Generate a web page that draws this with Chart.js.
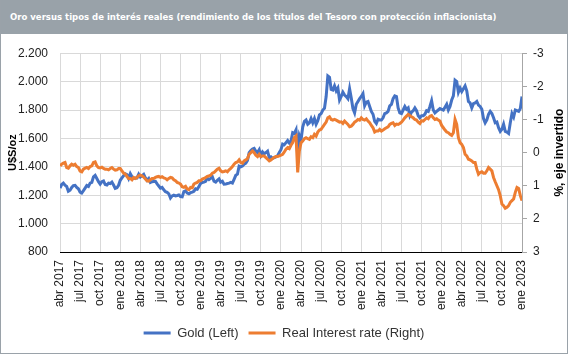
<!DOCTYPE html>
<html>
<head>
<meta charset="utf-8">
<script src="https://cdn.jsdelivr.net/npm/chart.js@4/dist/chart.umd.min.js"></script>
<style>
html,body{margin:0;padding:0;background:#fff;width:571px;height:355px;overflow:hidden;}
#frame{position:absolute;left:0;top:0;width:566px;height:353px;border-left:1px solid #9aa2a9;border-right:1px solid #9aa2a9;border-bottom:1px solid #9aa2a9;}
#band{position:absolute;left:0;top:0;width:566px;height:34px;background:#99a2a9;}
#title{position:absolute;left:9px;top:0;height:34px;line-height:34px;color:#fff;font-family:"Liberation Sans Narrow","DejaVu Sans Condensed","Liberation Sans",sans-serif;font-weight:bold;font-size:12px;white-space:nowrap;}
#wrap{position:absolute;left:0;top:34px;width:566px;height:319px;}
</style>
</head>
<body>
<div id="frame">
  <div id="band"><span id="title">Oro versus tipos de interés reales (rendimiento de los títulos del Tesoro con protección inflacionista)</span></div>
  <div id="wrap"><canvas id="c" width="566" height="319"></canvas></div>
</div>
<script>
// Quarterly tick labels on the time axis
const tickLabels = ['abr 2017','jul 2017','oct 2017','ene 2018','abr 2018','jul 2018','oct 2018','ene 2019','abr 2019','jul 2019','oct 2019','ene 2020','abr 2020','jul 2020','oct 2020','ene 2021','abr 2021','jul 2021','oct 2021','ene 2022','abr 2022','jul 2022','oct 2022','ene 2023'];
const leftTickLabels = ['800','1.000','1.200','1.400','1.600','1.800','2.000','2.200'];
const rightTickLabels = ['-3','-2','-1','0','1','2','3'];

// Gold (US$/oz), weekly from abr 2017 to ene 2023 (4 readings per month)
const goldValues = [
  1250,1275,1285,1270, 1262,1228,1235,1255, 1268,1270,1255,1245, 1222,1215,1232,1250, 1268,1262,1285,1290,
  1330,1340,1318,1295, 1278,1295,1300,1275, 1272,1285,1282,1292, 1272,1248,1252,1270,
  1305,1322,1338,1350, 1345,1318,1352,1330, 1318,1322,1322,1348, 1328,1338,1347,1322, 1305,1318,1290,1295,
  1297,1298,1280,1265, 1250,1255,1238,1225, 1220,1210,1180,1195, 1200,1195,1198,1202, 1190,1188,1225,1230,
  1215,1210,1218,1222, 1228,1245,1242,1262,
  1283,1290,1292,1298, 1320,1310,1318,1330, 1298,1292,1305,1315, 1292,1298,1277,1278, 1282,1285,1290,1285,
  1312,1340,1348,1405, 1400,1405,1418,1425, 1445,1500,1515,1525, 1530,1510,1500,1520, 1480,1505,1492,1500,
  1510,1465,1470,1460, 1465,1470,1478,1500,
  1520,1560,1555,1570, 1585,1568,1582,1640, 1635,1660,1480,1620, 1590,1680,1720,1730, 1700,1710,1740,1710,
  1740,1700,1725,1765, 1775,1800,1812,1895, 2040,2030,1945,1940, 1970,1935,1955,1870, 1895,1925,1905,1895,
  1880,1950,1885,1810, 1780,1840,1860,1880,
  1895,1915,1830,1855, 1860,1825,1790,1770, 1720,1705,1735,1730, 1730,1745,1775,1780, 1790,1830,1840,1880,
  1900,1895,1815,1780, 1775,1800,1825,1805, 1815,1760,1785,1795, 1815,1795,1760,1745, 1760,1760,1770,1795,
  1790,1825,1865,1800, 1780,1790,1800,1810,
  1805,1800,1820,1840, 1800,1825,1870,1900, 2010,2000,1925,1955, 1930,1950,1970,1935, 1860,1850,1815,1845,
  1850,1860,1835,1825, 1805,1740,1710,1730, 1770,1790,1775,1745, 1710,1715,1675,1650, 1665,1700,1650,1645,
  1635,1710,1775,1750, 1800,1795,1790,1810,
  1895
];

// Real interest rate (%), same dates
const rateValues = [
  0.40,0.35,0.32,0.30, 0.45,0.47,0.40,0.35, 0.38,0.35,0.42,0.45, 0.56,0.58,0.50,0.47, 0.45,0.48,0.42,0.40,
  0.30,0.28,0.40,0.45, 0.46,0.44,0.48,0.50, 0.50,0.52,0.48,0.45, 0.50,0.53,0.52,0.48,
  0.48,0.55,0.62,0.65, 0.72,0.78,0.78,0.82, 0.75,0.78,0.75,0.70, 0.68,0.70,0.74,0.80, 0.85,0.86,0.82,0.78,
  0.78,0.75,0.73,0.72, 0.75,0.73,0.76,0.78, 0.82,0.78,0.75,0.76, 0.82,0.85,0.90,0.92, 0.95,1.03,1.05,1.02,
  1.10,1.12,1.05,1.06, 0.95,0.92,0.90,0.85,
  0.85,0.80,0.78,0.75, 0.72,0.70,0.68,0.62, 0.60,0.55,0.50,0.47, 0.55,0.58,0.57,0.55, 0.58,0.52,0.48,0.42,
  0.35,0.30,0.28,0.22, 0.30,0.32,0.25,0.22, 0.18,0.05,0.00,-0.05, 0.00,0.08,0.12,0.05, 0.12,0.10,0.10,0.15,
  0.20,0.25,0.22,0.18, 0.14,0.12,0.12,0.10,
  0.08,0.05,-0.02,-0.10, -0.15,-0.12,-0.22,-0.30, -0.45,-0.50,0.60,-0.05, -0.30,-0.35,-0.42,-0.45, -0.42,-0.40,-0.48,-0.45,
  -0.55,-0.50,-0.62,-0.68, -0.70,-0.78,-0.85,-0.92, -1.05,-1.08,-1.00,-0.98, -1.00,-0.98,-0.95,-0.92, -0.93,-0.88,-0.95,-0.90,
  -0.85,-0.78,-0.80,-0.85, -0.92,-0.95,-1.00,-0.98,
  -1.05,-1.00,-0.98,-1.02, -0.95,-0.90,-0.82,-0.75, -0.62,-0.65,-0.65,-0.70, -0.65,-0.68,-0.72,-0.75, -0.78,-0.85,-0.88,-0.90,
  -0.82,-0.86,-0.85,-0.88, -0.92,-0.98,-1.05,-1.10, -1.15,-1.12,-1.08,-1.05, -1.00,-0.98,-0.92,-0.88, -0.96,-0.95,-1.00,-1.05,
  -1.02,-1.10,-1.12,-1.05, -1.00,-1.02,-0.98,-0.95,
  -0.82,-0.75,-0.68,-0.62, -0.60,-0.55,-0.52,-0.60, -1.00,-0.85,-0.45,-0.30, -0.25,-0.15,0.05,0.10, 0.20,0.22,0.25,0.30,
  0.30,0.50,0.65,0.60, 0.58,0.62,0.62,0.55, 0.45,0.50,0.55,0.75, 0.88,1.00,1.12,1.30, 1.55,1.60,1.68,1.65,
  1.60,1.50,1.45,1.40, 1.20,1.05,1.08,1.30,
  1.45
];

// fit header text width
(function(){
  const t = document.getElementById('title');
  const w = t.getBoundingClientRect().width;
  t.style.fontSize = (12 * 487 / w) + 'px';
})();

const goldPts = goldValues.map((v, i) => ({x: i * 0.25, y: v}));
const ratePts = rateValues.map((v, i) => ({x: i * 0.25, y: v}));

const rightTitle = {
  id: 'rightTitle',
  afterDraw(chart) {
    const s = chart.scales.y1;
    const ctx = chart.ctx;
    ctx.save();
    ctx.translate(559, (s.top + s.bottom) / 2);
    ctx.rotate(-Math.PI / 2);
    ctx.font = 'bold 12px "Liberation Sans"';
    ctx.fillStyle = '#000';
    ctx.textAlign = 'center';
    ctx.textBaseline = 'middle';
    ctx.fillText('%, eje invertido', 0, 0);
    ctx.restore();
  }
};

new Chart(document.getElementById('c'), {
  type: 'line',
  data: {
    datasets: [
      {label: 'Gold (Left)', data: goldPts, yAxisID: 'y', borderColor: '#4472C4', backgroundColor: '#4472C4', borderWidth: 3, pointRadius: 0, tension: 0, order: 1},
      {label: 'Real Interest rate (Right)', data: ratePts, yAxisID: 'y1', borderColor: '#ED7D31', backgroundColor: '#ED7D31', borderWidth: 3, pointRadius: 0, tension: 0, order: 0}
    ]
  },
  options: {
    responsive: false,
    animation: false,
    layout: {padding: {top: 14, bottom: 3.5, left: 0, right: 0}},
    plugins: {
      tooltip: {enabled: false},
      legend: {
        position: 'bottom',
        labels: {
          usePointStyle: true, pointStyle: 'line', pointStyleWidth: 27, boxHeight: 13,
          font: {family: '"Liberation Sans"', size: 13}, color: '#333', padding: 10,
          sort: (a, b) => a.datasetIndex - b.datasetIndex
        }
      }
    },
    scales: {
      x: {
        type: 'linear', min: 0, max: 69,
        ticks: {stepSize: 3, autoSkip: false, minRotation: 90, maxRotation: 90, padding: 8,
          font: {family: '"Liberation Sans"', size: 12}, color: '#222',
          callback: (v) => tickLabels[v / 3]},
        grid: {color: '#d9d9d9', drawTicks: false},
        border: {display: true, color: '#000', width: 1},
        afterFit(s) { s.height = 64.5; }
      },
      y: {
        position: 'left', min: 800, max: 2200,
        ticks: {stepSize: 200, padding: 12, font: {family: '"Liberation Sans"', size: 12}, color: '#222',
          callback: (v) => leftTickLabels[(v - 800) / 200]},
        grid: {color: '#d9d9d9', drawTicks: false},
        border: {display: false},
        title: {display: true, text: 'U$S/oz', color: '#000', font: {family: '"Liberation Sans", sans-serif', size: 11, weight: 'bold'}, padding: {top: 5, bottom: 0}},
        afterFit(s) { s.width = 59; }
      },
      y1: {
        position: 'right', min: -3, max: 3, reverse: true,
        ticks: {stepSize: 1, padding: 6, font: {family: '"Liberation Sans"', size: 12}, color: '#222',
          callback: (v) => rightTickLabels[v + 3]},
        grid: {drawOnChartArea: false, color: '#a6a6a6', tickLength: 5},
        border: {display: true, color: '#a6a6a6', width: 1},
        afterFit(s) { s.width = 45; }
      }
    }
  },
  plugins: [rightTitle]
});
</script>
</body>
</html>
